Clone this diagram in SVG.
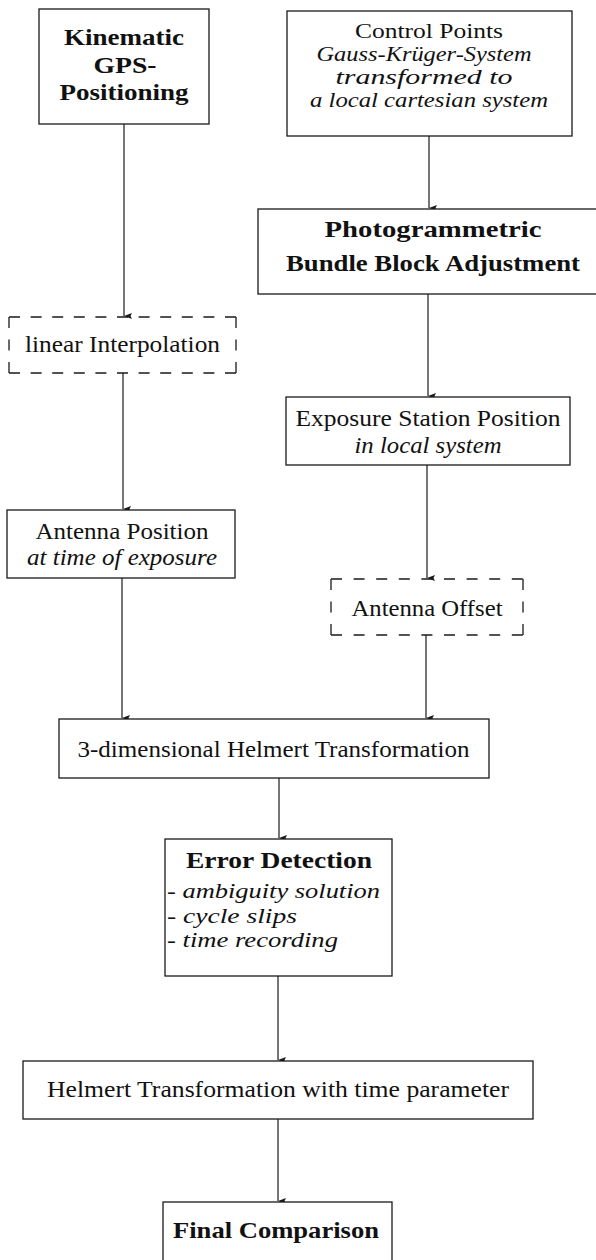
<svg xmlns="http://www.w3.org/2000/svg" width="596" height="1260" viewBox="0 0 596 1260">
<defs>
<marker id="arr" markerUnits="userSpaceOnUse" markerWidth="8" markerHeight="9" refX="3" refY="8" orient="auto-start-reverse" viewBox="0 0 6 9">
<path d="M0,0 L3,8 L6,0 L3,1.5 Z" fill="#1a1a1a"/>
</marker>
<style>
.box{fill:#fff;stroke:#1a1a1a;stroke-width:1.3}
.dash{stroke:#1a1a1a;stroke-width:1.3;fill:none}
.c{stroke:#1a1a1a;stroke-width:1.2;fill:none}
text{font-family:"Liberation Serif","Times New Roman",serif;fill:#111;font-size:23px}
.b{font-weight:bold;font-size:24px}
.i{font-style:italic}
.m{text-anchor:middle}
.s{font-size:20px}
</style>
</defs>
<rect width="596" height="1260" fill="#fff"/>

<g id="connectors">
<line class="c" x1="124" y1="124" x2="124" y2="316" marker-end="url(#arr)"/>
<line class="c" x1="429" y1="136" x2="429" y2="208" marker-end="url(#arr)"/>
<line class="c" x1="123" y1="373" x2="123" y2="509" marker-end="url(#arr)"/>
<line class="c" x1="428" y1="294" x2="428" y2="396" marker-end="url(#arr)"/>
<line class="c" x1="427" y1="465" x2="427" y2="578" marker-end="url(#arr)"/>
<line class="c" x1="122" y1="578" x2="122" y2="718" marker-end="url(#arr)"/>
<line class="c" x1="426" y1="635" x2="426" y2="718" marker-end="url(#arr)"/>
<line class="c" x1="279" y1="778" x2="279" y2="838" marker-end="url(#arr)"/>
<line class="c" x1="278" y1="976" x2="278" y2="1060" marker-end="url(#arr)"/>
<line class="c" x1="278" y1="1119" x2="278" y2="1201" marker-end="url(#arr)"/>
</g>

<g id="kinematic">
<rect class="box" x="39" y="9" width="170" height="115"/>
<text class="b m" x="124" y="45" textLength="120" lengthAdjust="spacingAndGlyphs">Kinematic</text>
<text class="b m" x="125" y="73" textLength="63" lengthAdjust="spacingAndGlyphs">GPS-</text>
<text class="b m" x="124" y="100" textLength="129" lengthAdjust="spacingAndGlyphs">Positioning</text>
</g>

<g id="control-points">
<rect class="box" x="287" y="11" width="285" height="125"/>
<text class="m s" x="429" y="38" textLength="148" lengthAdjust="spacingAndGlyphs">Control Points</text>
<text class="m i s" x="424" y="61" textLength="215" lengthAdjust="spacingAndGlyphs">Gauss-Krüger-System</text>
<text class="m i s" x="424" y="84" textLength="177" lengthAdjust="spacingAndGlyphs">transformed to</text>
<text class="m i s" x="429" y="107" textLength="238" lengthAdjust="spacingAndGlyphs">a local cartesian system</text>
</g>

<g id="photogrammetric">
<rect class="box" x="258" y="209" width="350" height="85"/>
<text class="b m" x="433" y="237" textLength="217" lengthAdjust="spacingAndGlyphs">Photogrammetric</text>
<text class="b m" x="433" y="271" textLength="294" lengthAdjust="spacingAndGlyphs">Bundle Block Adjustment</text>
</g>

<g id="linear-interpolation">
<line class="dash" x1="9" y1="317" x2="236" y2="317" stroke-dasharray="11 10.6"/>
<line class="dash" x1="9" y1="373" x2="236" y2="373" stroke-dasharray="11 10.6"/>
<line class="dash" x1="9" y1="317" x2="9" y2="373" stroke-dasharray="11 11.5"/>
<line class="dash" x1="236" y1="317" x2="236" y2="373" stroke-dasharray="11 11.5"/>
<text class="m" x="122.5" y="352" textLength="195" lengthAdjust="spacingAndGlyphs">linear Interpolation</text>
</g>

<g id="exposure-station">
<rect class="box" x="286" y="397" width="284" height="68"/>
<text class="m" x="428" y="426" textLength="265" lengthAdjust="spacingAndGlyphs">Exposure Station Position</text>
<text class="m i" x="428" y="453" textLength="147" lengthAdjust="spacingAndGlyphs">in local system</text>
</g>

<g id="antenna-position">
<rect class="box" x="7" y="510" width="228" height="68"/>
<text class="m" x="122" y="539" textLength="173" lengthAdjust="spacingAndGlyphs">Antenna Position</text>
<text class="m i" x="122" y="565" textLength="190" lengthAdjust="spacingAndGlyphs">at time of exposure</text>
</g>

<g id="antenna-offset">
<line class="dash" x1="331" y1="579" x2="523" y2="579" stroke-dasharray="11 11.6"/>
<line class="dash" x1="331" y1="635" x2="523" y2="635" stroke-dasharray="11 11.6"/>
<line class="dash" x1="331" y1="579" x2="331" y2="635" stroke-dasharray="11 11.5"/>
<line class="dash" x1="523" y1="579" x2="523" y2="635" stroke-dasharray="11 11.5"/>
<text class="m" x="427" y="616" textLength="151" lengthAdjust="spacingAndGlyphs">Antenna Offset</text>
</g>

<g id="helmert-3d">
<rect class="box" x="59" y="719" width="430" height="59"/>
<text class="m" x="273.5" y="757" textLength="392" lengthAdjust="spacingAndGlyphs">3-dimensional Helmert Transformation</text>
</g>

<g id="error-detection">
<rect class="box" x="165" y="839" width="227" height="137"/>
<text class="b m" x="279" y="868" textLength="186" lengthAdjust="spacingAndGlyphs">Error Detection</text>
<text class="i" x="167" y="898" style="font-size:22px" textLength="213" lengthAdjust="spacingAndGlyphs">- ambiguity solution</text>
<text class="i" x="167" y="923" style="font-size:22px" textLength="130" lengthAdjust="spacingAndGlyphs">- cycle slips</text>
<text class="i" x="167" y="947" style="font-size:22px" textLength="171" lengthAdjust="spacingAndGlyphs">- time recording</text>
</g>

<g id="helmert-time">
<rect class="box" x="23" y="1061" width="510" height="58"/>
<text class="m" x="278" y="1097" textLength="462" lengthAdjust="spacingAndGlyphs">Helmert Transformation with time parameter</text>
</g>

<g id="final-comparison">
<rect class="box" x="163" y="1202" width="229" height="80"/>
<text class="b m" x="276" y="1238" textLength="206" lengthAdjust="spacingAndGlyphs">Final Comparison</text>
</g>
</svg>
